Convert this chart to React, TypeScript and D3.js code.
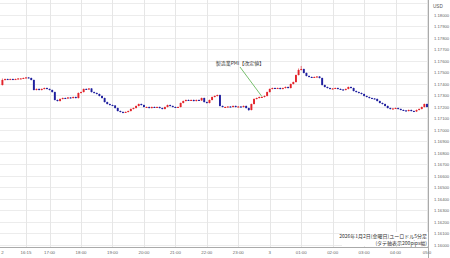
import React from "react";
import * as d3 from "d3";

const W = 450;
const H = 258;

// 5-minute candles, EUR/USD, starting 2026-01-02 15:30 JST
const startTime = new Date(2026, 0, 2, 15, 30);
const firstOpen = 1.17391;
const closes = [
  1.17435, 1.17443, 1.17439, 1.17443, 1.17439, 1.17443, 1.17448, 1.17448, 1.17452, 1.17457,
  1.17452, 1.17435, 1.17348, 1.17357, 1.17348, 1.17357, 1.17365, 1.17357, 1.17348, 1.1733,
  1.17261, 1.17252, 1.1727, 1.17278, 1.17274, 1.17283, 1.17278, 1.17287, 1.17278, 1.17322,
  1.1733, 1.17357, 1.17352, 1.17361, 1.1733, 1.17322, 1.17313, 1.17296, 1.17278, 1.17243,
  1.17226, 1.17217, 1.17213, 1.17191, 1.17165, 1.17157, 1.17152, 1.17157, 1.17165, 1.17183,
  1.17191, 1.17209, 1.17226, 1.17217, 1.172, 1.172, 1.17191, 1.172, 1.17196, 1.172,
  1.17191, 1.17183, 1.172, 1.17217, 1.17209, 1.172, 1.17196, 1.172, 1.17235, 1.17252,
  1.17261, 1.17257, 1.17261, 1.17252, 1.17261, 1.17257, 1.17278, 1.17243, 1.17235, 1.17261,
  1.17287, 1.17296, 1.17304, 1.17209, 1.172, 1.172, 1.17204, 1.172, 1.17209, 1.172,
  1.17204, 1.172, 1.17209, 1.17191, 1.17174, 1.17226, 1.1727, 1.17278, 1.17287, 1.17287,
  1.17296, 1.1733, 1.17357, 1.17365, 1.17361, 1.17365, 1.17357, 1.17365, 1.17374, 1.17365,
  1.174, 1.17417, 1.17478, 1.17522, 1.1753, 1.17496, 1.1747, 1.17461, 1.17457, 1.17461,
  1.17465, 1.17452, 1.17391, 1.17374, 1.17365, 1.17357, 1.17361, 1.17365, 1.17357, 1.17352,
  1.17348, 1.17357, 1.17374, 1.17365, 1.17339, 1.1733, 1.17322, 1.17313, 1.17296, 1.17287,
  1.17278, 1.17274, 1.1727, 1.17252, 1.17235, 1.17226, 1.17209, 1.17191, 1.17183, 1.17187,
  1.17191, 1.17183, 1.17174, 1.1717, 1.17165, 1.17174, 1.17165, 1.17161, 1.17174, 1.17183,
  1.172, 1.17226, 1.172,
];
// notable wick extremes (candle index -> price)
const highSpikes: [number, number][] = [[114, 1.17557], [113, 1.17535], [0, 1.17448]];
const lowSpikes: [number, number][] = [[94, 1.17165], [46, 1.17145]];

const priceTicks = [
  1.18, 1.179, 1.178, 1.177, 1.176, 1.175, 1.174, 1.173, 1.172, 1.171, 1.17,
  1.169, 1.168, 1.167, 1.166, 1.165, 1.164, 1.163, 1.162, 1.161, 1.16,
];
const timeTickLabels = ["2", "16:15", "17:00", "18:00", "19:00", "20:00", "21:00", "22:00", "23:00", "3", "01:00", "02:00", "03:00", "04:00", "05:0"];
const timeTicks = [
  new Date(2026, 0, 2, 15, 30),
  new Date(2026, 0, 2, 16, 15),
  new Date(2026, 0, 2, 17, 0),
  new Date(2026, 0, 2, 18, 0),
  new Date(2026, 0, 2, 19, 0),
  new Date(2026, 0, 2, 20, 0),
  new Date(2026, 0, 2, 21, 0),
  new Date(2026, 0, 2, 22, 0),
  new Date(2026, 0, 2, 23, 0),
  new Date(2026, 0, 3, 0, 0),
  new Date(2026, 0, 3, 1, 0),
  new Date(2026, 0, 3, 2, 0),
  new Date(2026, 0, 3, 3, 0),
  new Date(2026, 0, 3, 4, 0),
  new Date(2026, 0, 3, 5, 0),
];
const eventTime = new Date(2026, 0, 2, 23, 45);
const eventLabel = "製造業PMI【改定値】";
const titleLine1 = "2026年1月2日(金曜日)ユーロドル5分足";
const titleLine2 = "(タテ軸表示200pips幅)";

const UP = "#e3242b";
const DOWN = "#1f1f9e";
const FONT = "'Liberation Sans', 'Noto Sans CJK JP', sans-serif";

export default function App() {
  const x = d3
    .scaleTime()
    .domain([new Date(2026, 0, 2, 16, 15), new Date(2026, 0, 3, 5, 0)])
    .range([26, 427]);
  const y = d3.scaleLinear().domain([1.16, 1.18]).range([245, 15]);
  const axisX = 428.5;
  const axisY = 247.5;

  const candles = closes.map((c, i) => {
    const o = i === 0 ? firstOpen : closes[i - 1];
    const t = d3.timeMinute.offset(startTime, i * 5);
    let hi = Math.max(o, c) + 0.00004;
    let lo = Math.min(o, c) - 0.00004;
    highSpikes.forEach(([k, v]) => { if (k === i) hi = v; });
    lowSpikes.forEach(([k, v]) => { if (k === i) lo = v; });
    return { t, o, c, hi, lo };
  });

  const gridPrices = [1.181, ...priceTicks];
  const bw = 1.9;

  return (
    <svg
      width={W}
      height={H}
      style={{ position: "fixed", left: 0, top: 0, background: "#fff" }}
      fontFamily={FONT}
    >
      <rect x={0} y={0} width={W} height={H} fill="#fff" />
      {/* horizontal grid */}
      {gridPrices.map((p, i) => (
        <line key={"h" + i} x1={0} x2={axisX} y1={Math.round(y(p)) + 0.5} y2={Math.round(y(p)) + 0.5} stroke="#ececec" strokeWidth={1} />
      ))}
      {/* vertical grid */}
      {timeTicks.slice(1).map((t, i) => (
        <line key={"v" + i} x1={Math.round(x(t)) + 0.5} x2={Math.round(x(t)) + 0.5} y1={0} y2={axisY} stroke="#e6e6e6" strokeWidth={1} />
      ))}
      {/* candles */}
      {candles.map((d, i) => {
        const cx = x(d.t);
        const up = d.c >= d.o;
        const col = up ? UP : DOWN;
        const top = y(Math.max(d.o, d.c));
        const bot = y(Math.min(d.o, d.c));
        const h = Math.max(1, bot - top);
        return (
          <g key={"c" + i}>
            <line x1={cx} x2={cx} y1={y(d.hi)} y2={y(d.lo)} stroke={col} strokeWidth={0.6} />
            <rect x={cx - bw / 2} y={top} width={bw} height={h} fill={col} />
          </g>
        );
      })}
      {/* event annotation */}
      <line x1={240} y1={67} x2={x(eventTime)} y2={y(closes[99]) - 0.5} stroke="#55b04a" strokeWidth={0.8} />
      <text x={240} y={65} fontSize={5} fill="#333" textAnchor="middle" fontFamily="'Noto Sans CJK JP', sans-serif">{eventLabel}</text>
      {/* axes */}
      <line x1={axisX} x2={axisX} y1={0} y2={H} stroke="#aaaaaa" strokeWidth={1} />
      <line x1={0} x2={axisX} y1={axisY} y2={axisY} stroke="#aaaaaa" strokeWidth={1} />
      {/* price labels */}
      <text x={433} y={8} fontSize={4.6} fill="#555">USD</text>
      {priceTicks.map((p, i) => (
        <text key={"p" + i} x={434} y={y(p) + 1.6} fontSize={4.2} fill="#666">{p.toFixed(5)}</text>
      ))}
      {/* time labels */}
      {timeTicks.map((t, i) => (
        <text key={"t" + i} x={x(t)} y={254} fontSize={4.4} fill="#666" textAnchor="middle">{timeTickLabels[i]}</text>
      ))}
      {/* title box */}
      <rect x={342} y={232} width={86} height={14} fill="#fff" />
      <text x={427} y={238} fontSize={5} fill="#333" textAnchor="end" fontFamily="'Noto Sans CJK JP', sans-serif">{titleLine1}</text>
      <text x={427} y={244.5} fontSize={5} fill="#333" textAnchor="end" fontFamily="'Noto Sans CJK JP', sans-serif">{titleLine2}</text>
    </svg>
  );
}
